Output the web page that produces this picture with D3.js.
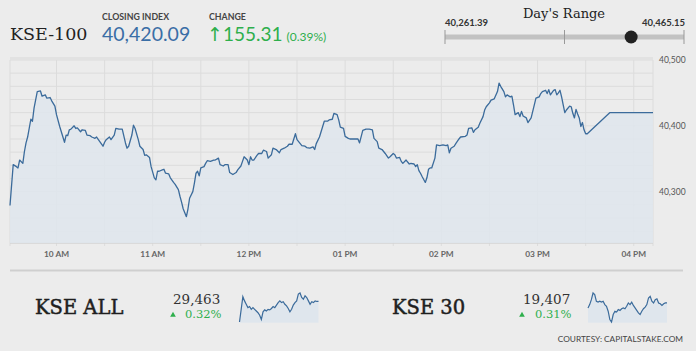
<!DOCTYPE html>
<html>
<head>
<meta charset="utf-8">
<script src="https://cdn.jsdelivr.net/npm/d3@7"></script>
<style>
  html, body { margin: 0; padding: 0; background: #ececec; }
  svg { display: block; }
  .sans { font-family: Lato, "Open Sans", sans-serif; }
  .serif { font-family: "DejaVu Serif", serif; }
</style>
</head>
<body>
<div id="kse_chart"></div>
<script>
// KSE-100 intraday (time, index level)
var kseTimes = ["09:31","09:33","09:35","09:36","09:37","09:39","09:40","09:41","09:42","09:44","09:45","09:46","09:48","09:50","09:51","09:53","09:54","09:56","09:57","09:59",
  "10:00","10:02","10:03","10:05","10:06","10:07","10:08","10:09","10:11","10:12","10:13","10:15","10:16","10:18","10:19","10:21","10:22","10:24","10:25","10:27",
  "10:29","10:30","10:31","10:33","10:34","10:36","10:37","10:39","10:41","10:43","10:44","10:45","10:47","10:48","10:49","10:51","10:52","10:54","10:55","10:56",
  "10:58","10:59","11:01","11:02","11:03","11:04","11:06","11:07","11:08","11:10","11:11","11:13","11:14","11:16","11:17","11:18","11:19","11:21","11:22","11:23",
  "11:25","11:26","11:27","11:28","11:29","11:30","11:32","11:33","11:34","11:36","11:38","11:39","11:41","11:42","11:44","11:45","11:47","11:48","11:50","11:52",
  "11:53","11:55","11:56","11:57","11:59","12:00","12:01","12:02","12:03","12:05","12:06","12:08","12:09","12:11","12:12","12:14","12:15","12:17","12:19","12:20",
  "12:22","12:24","12:25","12:27","12:29","12:30","12:32","12:33","12:35","12:36","12:38","12:40","12:41","12:42","12:44","12:46","12:47","12:49","12:50","12:52",
  "12:53","12:55","12:56","12:57","12:59","13:00","13:02","13:03","13:06","13:08","13:09","13:11","13:13","13:15","13:17","13:18","13:20","13:21","13:23","13:25",
  "13:27","13:28","13:30","13:31","13:32","13:34","13:35","13:36","13:38","13:40","13:41","13:43","13:44","13:45","13:46","13:47","13:48","13:50","13:51","13:52",
  "13:53","13:54","13:56","13:57","13:59","14:01","14:03","14:04","14:05","14:06","14:08","14:09","14:11","14:12","14:15","14:16","14:17","14:19","14:20","14:21",
  "14:23","14:24","14:26","14:27","14:28","14:30","14:31","14:33","14:35","14:36","14:37","14:39","14:40","14:41","14:43","14:44","14:45","14:46","14:48","14:49",
  "14:50","14:51","14:53","14:54","14:56","14:57","14:59","15:01","15:02","15:03","15:05","15:06","15:07","15:08","15:10","15:11","15:12","15:13","15:14","15:15",
  "15:16","15:17","15:18","15:20","15:21","15:22","15:23","15:24","15:25","15:26","15:27","15:28","15:29","15:30","15:31","15:45","16:12"];
var kseValues = [40279,40341,40338,40336,40348,40343,40361,40374,40383,40410,40407,40427,40452,40453,40445,40447,40442,40443,40438,40430,
  40417,40399,40391,40375,40386,40385,40394,40395,40400,40396,40397,40391,40394,40393,40386,40385,40383,40381,40383,40376,
  40369,40375,40379,40383,40379,40386,40396,40395,40395,40374,40366,40369,40386,40401,40396,40379,40369,40364,40355,40356,
  40352,40338,40321,40318,40331,40331,40333,40334,40328,40327,40321,40314,40311,40303,40293,40284,40274,40262,40274,40290,
  40300,40313,40328,40331,40324,40336,40338,40343,40347,40346,40348,40348,40351,40341,40339,40341,40341,40329,40326,40329,
  40333,40339,40346,40353,40348,40341,40353,40348,40348,40355,40358,40358,40363,40361,40351,40356,40366,40364,40359,40364,
  40366,40369,40372,40372,40388,40379,40373,40370,40369,40367,40366,40368,40364,40373,40383,40399,40407,40407,40409,40410,
  40419,40417,40409,40398,40396,40384,40381,40380,40380,40380,40374,40393,40395,40395,40394,40381,40376,40366,40364,40358,
  40351,40353,40358,40356,40351,40352,40346,40343,40348,40342,40343,40342,40338,40341,40332,40328,40323,40314,40321,40334,
  40336,40336,40351,40371,40370,40371,40370,40371,40359,40366,40369,40373,40380,40383,40384,40386,40396,40397,40390,40394,
  40398,40404,40414,40424,40429,40435,40439,40441,40452,40465,40460,40452,40444,40447,40444,40445,40432,40417,40420,40414,
  40422,40415,40412,40405,40412,40422,40442,40444,40449,40452,40454,40449,40455,40447,40454,40455,40447,40450,40454,40444,
  40432,40420,40424,40430,40429,40419,40412,40425,40418,40412,40399,40405,40394,40388,40388,40420,40420.09];

var yTicks = [40300, 40400, 40500];
var hourTicks = ["10:00","11:00","12:00","13:00","14:00","15:00","16:00"];

// Header figures
var closingIndex = 40420.09;
var changePoints = 155.31;
var changePct = 0.39;
var dayLow = 40261.39;
var dayHigh = 40465.15;

// Small index panels
var miniNames = ["KSE ALL", "KSE 30"];
var miniClose = [29463, 19407];
var miniPct = [0.32, 0.31];
var kseAllValues = [29390,29435,29480,29465,29453,29441,29445,29435,29441,29435,29429,29423,29414,29399,29426,29433,29429,29435,29433,29438,
  29445,29441,29450,29459,29465,29459,29462,29453,29447,29438,29426,29435,29450,29459,29465,29489,29493,29477,29471,29483,
  29477,29465,29453,29462,29459,29465,29463,29463];
var kse30Values = [19395,19403,19415,19431,19427,19411,19409,19411,19409,19411,19403,19399,19387,19367,19361,19379,19387,19385,19391,19389,
  19393,19395,19393,19399,19407,19403,19409,19401,19395,19389,19383,19379,19387,19393,19397,19403,19419,19423,19411,19407,
  19415,19417,19407,19405,19401,19405,19407,19407];

var width = 696, height = 351;
var plot = { left: 10, right: 653, top: 60, bottom: 243 };
var lineColor = "#3b6b9b";
var areaColor = "#dfe6ed";
var green = "#2eaf4c";

var parseTime = d3.timeParse("%H:%M");
var data = kseTimes.map(function (t, i) { return { t: parseTime(t), v: kseValues[i] }; });

var svg = d3.select("#kse_chart").append("svg")
    .attr("width", width)
    .attr("height", height);

// ---- header ----
svg.append("text").attr("class", "serif")
    .attr("x", 10).attr("y", 39.5)
    .style("font-size", "17.5px").style("fill", "#222")
    .text("KSE-100");

svg.append("text").attr("class", "sans")
    .attr("x", 102).attr("y", 20)
    .style("font-size", "8.8px").style("font-weight", 700).style("fill", "#444")
    .text("CLOSING INDEX");
svg.append("text").attr("class", "sans")
    .attr("x", 102).attr("y", 41)
    .style("font-size", "19.5px").style("fill", "#3a6ea6")
    .text(d3.format(",.2f")(closingIndex));

svg.append("text").attr("class", "sans")
    .attr("x", 209).attr("y", 20)
    .style("font-size", "8.8px").style("font-weight", 700).style("fill", "#444")
    .text("CHANGE");
var chg = svg.append("text").attr("class", "sans")
    .attr("x", 207).attr("y", 41)
    .style("fill", green);
chg.append("tspan").style("font-size", "19px").style("font-family", "DejaVu Sans").text("\u2191");
chg.append("tspan").style("font-size", "19px").text(d3.format(".2f")(changePoints));
chg.append("tspan").attr("dx", 4).style("font-size", "12px").text("(" + changePct.toFixed(2) + "%)");

// ---- day's range ----
var rangeX = d3.scaleLinear().domain([dayLow, dayHigh]).range([445, 684]);
svg.append("text").attr("class", "serif")
    .attr("x", 564).attr("y", 18.3).attr("text-anchor", "middle")
    .style("font-size", "13px").style("fill", "#222")
    .text("Day's Range");
svg.append("text").attr("class", "sans")
    .attr("x", 445).attr("y", 26)
    .style("font-size", "9.5px").style("font-weight", 700).style("fill", "#333")
    .text(d3.format(",.2f")(dayLow));
svg.append("text").attr("class", "sans")
    .attr("x", 685).attr("y", 26).attr("text-anchor", "end")
    .style("font-size", "9.5px").style("font-weight", 700).style("fill", "#333")
    .text(d3.format(",.2f")(dayHigh));
svg.append("rect")
    .attr("x", rangeX(dayLow)).attr("y", 34.5)
    .attr("width", rangeX(dayHigh) - rangeX(dayLow)).attr("height", 5)
    .style("fill", "#c2c2c2");
svg.selectAll(".range-tick")
    .data([dayLow, (dayLow + dayHigh) / 2, dayHigh])
    .enter().append("line")
    .attr("class", "range-tick")
    .attr("x1", d => rangeX(d)).attr("x2", d => rangeX(d))
    .attr("y1", 30).attr("y2", 44)
    .style("stroke", "#999").style("stroke-width", 1);
svg.append("circle")
    .attr("cx", rangeX(closingIndex)).attr("cy", 37)
    .attr("r", 6.5)
    .style("fill", "#222");

// ---- main chart ----
var x = d3.scaleTime()
    .domain([parseTime("09:31"), parseTime("16:12")])
    .range([plot.left, plot.right]);
var y = d3.scaleLinear()
    .domain([40222, 40500])
    .range([plot.bottom, plot.top]);

var grid = svg.append("g").style("stroke", "#dcdcdc").style("stroke-width", 1);
grid.selectAll(".hgrid")
    .data(d3.range(40240, 40501, 20))
    .enter().append("line")
    .attr("x1", plot.left).attr("x2", plot.right)
    .attr("y1", d => y(d)).attr("y2", d => y(d));
grid.selectAll(".vgrid")
    .data(x.ticks(d3.timeMinute.every(30)))
    .enter().append("line")
    .attr("x1", d => x(d)).attr("x2", d => x(d))
    .attr("y1", plot.top).attr("y2", plot.bottom + 3);
grid.append("line")
    .attr("x1", plot.left).attr("x2", plot.left)
    .attr("y1", plot.top).attr("y2", plot.bottom + 3);
grid.append("line")
    .attr("x1", plot.right).attr("x2", plot.right)
    .attr("y1", plot.top).attr("y2", plot.bottom + 3);
grid.append("line")
    .attr("x1", plot.left).attr("x2", plot.right)
    .attr("y1", plot.bottom).attr("y2", plot.bottom)
    .style("stroke", "#d4d4d4").style("stroke-width", 1.5);
grid.append("line")
    .attr("x1", plot.left).attr("x2", plot.right)
    .attr("y1", plot.top - 1.5).attr("y2", plot.top - 1.5)
    .style("stroke", "#e2e2e2").style("stroke-width", 3);

var area = d3.area()
    .x(d => x(d.t))
    .y0(plot.bottom)
    .y1(d => y(d.v));
var line = d3.line()
    .x(d => x(d.t))
    .y(d => y(d.v));

svg.append("path").datum(data)
    .attr("d", area)
    .style("fill", areaColor).style("opacity", 0.85);
svg.append("path").datum(data)
    .attr("d", line)
    .style("fill", "none").style("stroke", lineColor).style("stroke-width", 1.3)
    .style("stroke-linejoin", "round");

// y labels on the right
svg.selectAll(".ylab")
    .data(yTicks)
    .enter().append("text")
    .attr("class", "sans")
    .attr("x", 659).attr("y", d => y(d) + 3)
    .style("font-size", "8.5px").style("fill", "#555")
    .text(d => d3.format(",")(d));

// x labels
var fmtHour = d3.timeFormat("%I %p");
svg.selectAll(".xlab")
    .data(hourTicks)
    .enter().append("text")
    .attr("class", "sans")
    .attr("x", d => x(parseTime(d))).attr("y", 256.5)
    .attr("text-anchor", "middle")
    .style("font-size", "8.3px").style("font-weight", 700).style("fill", "#666")
    .text(d => fmtHour(parseTime(d)));

// separator
svg.append("line")
    .attr("x1", 10).attr("x2", 683)
    .attr("y1", 270.5).attr("y2", 270.5)
    .style("stroke", "#cfcfcf").style("stroke-width", 2);

// ---- mini panels ----
var miniSeries = [kseAllValues, kse30Values];
var miniPos = [
    { name: 35, close: 173, tri: 173, pct: 185, spark: [239.5, 318.5] },
    { name: 392, close: 523, tri: 522, pct: 535, spark: [588, 667] }
];

miniNames.forEach(function (name, i) {
    var p = miniPos[i];
    svg.append("text").attr("class", "serif")
        .attr("x", p.name).attr("y", 314)
        .style("font-size", "19.5px").style("fill", "#1f1f1f")
        .style("stroke", "#1f1f1f").style("stroke-width", 0.5)
        .text(name);
    svg.append("text").attr("class", "serif")
        .attr("x", p.close).attr("y", 304)
        .style("font-size", "13.5px").style("fill", "#333")
        .text(d3.format(",")(miniClose[i]));
    svg.append("path")
        .attr("d", d3.symbol().type(d3.symbolTriangle).size(14)())
        .attr("transform", "translate(" + p.tri + ",315)")
        .style("fill", green);
    svg.append("text").attr("class", "serif")
        .attr("x", p.pct).attr("y", 318.3)
        .style("font-size", "11.5px").style("fill", green)
        .text(miniPct[i].toFixed(2) + "%");

    var vals = miniSeries[i];
    var sx = d3.scaleLinear().domain([0, vals.length - 1]).range(p.spark);
    var sy = d3.scaleLinear().domain(d3.extent(vals)).range([322, 293]);
    svg.append("path").datum(vals)
        .attr("d", d3.area().x((d, j) => sx(j)).y0(322.7).y1(d => sy(d)))
        .style("fill", areaColor);
    svg.append("path").datum(vals)
        .attr("d", d3.line().x((d, j) => sx(j)).y(d => sy(d)))
        .style("fill", "none").style("stroke", lineColor).style("stroke-width", 1.2);
});

svg.append("text").attr("class", "sans")
    .attr("x", 683).attr("y", 341.7).attr("text-anchor", "end")
    .style("font-size", "8.3px").style("fill", "#444")
    .text("COURTESY: CAPITALSTAKE.COM");
</script>
</body>
</html>
